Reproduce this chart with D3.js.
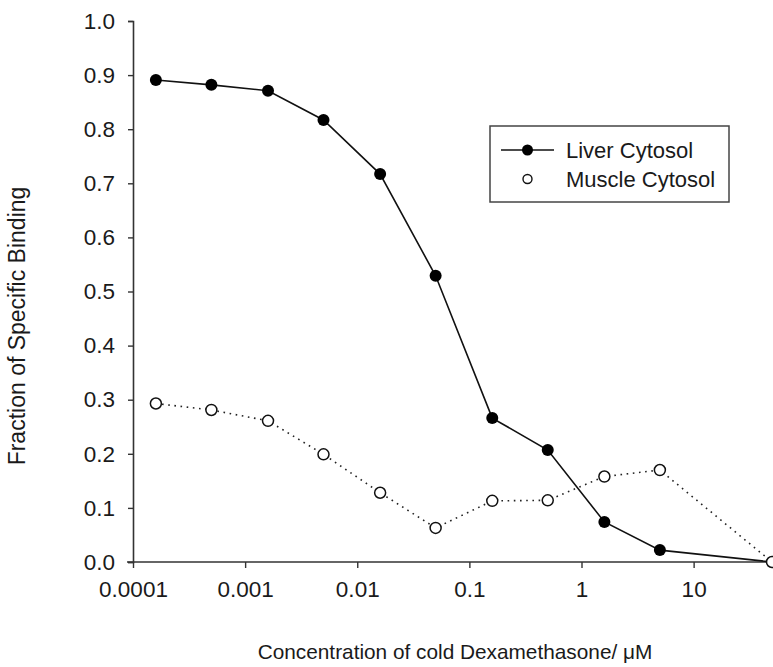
<!DOCTYPE html>
<html>
<head>
<meta charset="utf-8">
<script src="https://cdn.jsdelivr.net/npm/d3@7"></script>
<style>
  body { margin: 0; background: #fff; }
  svg { display: block; }
  text { font-family: "Liberation Sans", Arial, sans-serif; fill: #1a1a1a; }
</style>
</head>
<body>
<svg id="chart" width="773" height="667"></svg>
<script>
// Data
const concentrations = [0.00016, 0.0005, 0.0016, 0.005, 0.016, 0.05, 0.16, 0.5, 1.6, 5, 50];
const liverValues   = [0.891, 0.882, 0.871, 0.817, 0.717, 0.529, 0.266, 0.207, 0.074, 0.022, 0.0];
const muscleValues  = [0.293, 0.281, 0.261, 0.199, 0.128, 0.063, 0.113, 0.114, 0.158, 0.170, 0.0];
const xTickValues = [0.0001, 0.001, 0.01, 0.1, 1, 10];
const xTickLabels = ["0.0001", "0.001", "0.01", "0.1", "1", "10"];
const yTickValues = [0, 0.1, 0.2, 0.3, 0.4, 0.5, 0.6, 0.7, 0.8, 0.9, 1.0];
const seriesNames = ["Liver Cytosol", "Muscle Cytosol"];
const xTitle = "Concentration of cold Dexamethasone/ \u03bcM";
const yTitle = "Fraction of Specific Binding";

const svg = d3.select("#chart");
const x = d3.scaleLog().domain([0.0001, 50]).range([133, 772]);
const y = d3.scaleLinear().domain([0, 1]).range([562, 21]);

const liver = concentrations.map((c, i) => ({c, v: liverValues[i]}));
const muscle = concentrations.map((c, i) => ({c, v: muscleValues[i]}));

// Axes
const xAxis = d3.axisBottom(x).tickValues(xTickValues)
  .tickFormat((d, i) => xTickLabels[i]).tickSizeOuter(0).tickSize(6).tickPadding(13);
const yAxis = d3.axisLeft(y).tickValues(yTickValues)
  .tickFormat(d3.format(".1f")).tickSizeOuter(0).tickSize(5).tickPadding(13);

const gx = svg.append("g").attr("transform", "translate(0,562)").call(xAxis);
const gy = svg.append("g").attr("transform", "translate(133,0)").call(yAxis);
[gx, gy].forEach(g => {
  g.select(".domain").attr("stroke", "#333").attr("stroke-width", 1.6);
  g.selectAll(".tick line").attr("stroke", "#333").attr("stroke-width", 1.4);
  g.selectAll(".tick text").style("font-size", "22.5px").attr("fill", "#1a1a1a")
    .style("font-family", "'Liberation Sans', Arial, sans-serif");
});
// extend x domain line to left under the 0.0 tick and to right edge
gx.select(".domain").attr("d", `M127,0H773`);

// Muscle dotted line
svg.append("path").datum(muscle)
  .attr("fill", "none").attr("stroke", "#222").attr("stroke-width", 1.6)
  .attr("stroke-dasharray", "1.6,4.6")
  .attr("d", d3.line().x(d => x(d.c)).y(d => y(d.v)));

// Liver solid line
svg.append("path").datum(liver)
  .attr("fill", "none").attr("stroke", "#111").attr("stroke-width", 1.6)
  .attr("d", d3.line().x(d => x(d.c)).y(d => y(d.v)));

// Liver markers
svg.selectAll("circle.liver").data(liver.slice(0, liver.length - 1)).enter()
  .append("circle").attr("class", "liver")
  .attr("cx", d => x(d.c)).attr("cy", d => y(d.v)).attr("r", 6)
  .attr("fill", "#000");

// Muscle markers
svg.selectAll("circle.muscle").data(muscle).enter()
  .append("circle").attr("class", "muscle")
  .attr("cx", d => x(d.c)).attr("cy", d => y(d.v)).attr("r", 5.5)
  .attr("fill", "#fff").attr("stroke", "#111").attr("stroke-width", 1.5);

// Legend
const lg = svg.append("g");
lg.append("rect").attr("x", 490).attr("y", 126).attr("width", 239).attr("height", 76)
  .attr("fill", "#fff").attr("stroke", "#444").attr("stroke-width", 1.5);
lg.append("line").attr("x1", 501).attr("x2", 554).attr("y1", 150).attr("y2", 150)
  .attr("stroke", "#111").attr("stroke-width", 1.6);
lg.append("circle").attr("cx", 527.5).attr("cy", 150).attr("r", 5.5).attr("fill", "#000");
lg.append("circle").attr("cx", 527.5).attr("cy", 179).attr("r", 4.5)
  .attr("fill", "#fff").attr("stroke", "#111").attr("stroke-width", 1.4);
lg.append("text").attr("x", 566).attr("y", 158).style("font-size", "22px").text(seriesNames[0]);
lg.append("text").attr("x", 566).attr("y", 187).style("font-size", "22px").text(seriesNames[1]);

// Axis titles
svg.append("text").attr("x", 455).attr("y", 659).attr("text-anchor", "middle")
  .style("font-size", "20.8px").text(xTitle);
svg.append("text").attr("transform", "translate(25,326) rotate(-90)")
  .attr("text-anchor", "middle").style("font-size", "23px").text(yTitle);
</script>
</body>
</html>
